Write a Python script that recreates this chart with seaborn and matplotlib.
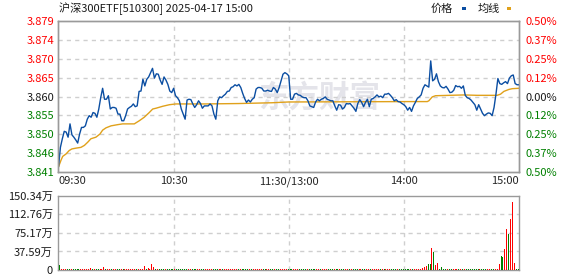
import numpy as np
import matplotlib
matplotlib.use("Agg")
import matplotlib.pyplot as plt
import seaborn as sns
from matplotlib.patches import Rectangle

# ---------------- data ----------------
title = "沪深300ETF[510300] 2025-04-17 15:00"
legend_labels = ["价格", "均线"]
watermark = "东方财富"
prev_close = 3.860

price = [
    3.8420, 3.8470, 3.8492, 3.8511, 3.8509, 3.8496, 3.8530, 3.8502, 3.8496, 3.8489,
    3.8481, 3.8504, 3.8521, 3.8521, 3.8525, 3.8542, 3.8551, 3.8547, 3.8559, 3.8557,
    3.8547, 3.8568, 3.8597, 3.8621, 3.8593, 3.8593, 3.8602, 3.8568, 3.8572, 3.8572,
    3.8570, 3.8555, 3.8555, 3.8538, 3.8538, 3.8551, 3.8568, 3.8572, 3.8575, 3.8581,
    3.8574, 3.8576, 3.8613, 3.8614, 3.8644, 3.8627, 3.8644, 3.8650, 3.8661, 3.8672,
    3.8647, 3.8658, 3.8657, 3.8642, 3.8631, 3.8650, 3.8642, 3.8631, 3.8614, 3.8610,
    3.8621, 3.8602, 3.8597, 3.8589, 3.8568, 3.8555, 3.8542, 3.8591, 3.8593, 3.8592,
    3.8581, 3.8572, 3.8579, 3.8589, 3.8582, 3.8570, 3.8576, 3.8576, 3.8576, 3.8581,
    3.8576, 3.8555, 3.8542, 3.8589, 3.8599, 3.8597, 3.8602, 3.8606, 3.8613, 3.8614,
    3.8623, 3.8625, 3.8630, 3.8627, 3.8631, 3.8623, 3.8608, 3.8595, 3.8585, 3.8591,
    3.8586, 3.8593, 3.8597, 3.8619, 3.8623, 3.8623, 3.8621, 3.8614, 3.8614, 3.8616,
    3.8614, 3.8613, 3.8623, 3.8619, 3.8610, 3.8623, 3.8640, 3.8657, 3.8661, 3.8658,
    3.8653, 3.8593, 3.8593, 3.8606, 3.8608, 3.8604, 3.8603, 3.8599, 3.8597, 3.8597,
    3.8589, 3.8576, 3.8574, 3.8572, 3.8586, 3.8593, 3.8589, 3.8593, 3.8595, 3.8599,
    3.8593, 3.8591, 3.8589, 3.8589, 3.8576, 3.8565, 3.8579, 3.8578, 3.8568, 3.8572,
    3.8582, 3.8581, 3.8582, 3.8576, 3.8570, 3.8562, 3.8582, 3.8592, 3.8585, 3.8574,
    3.8585, 3.8593, 3.8574, 3.8593, 3.8595, 3.8599, 3.8604, 3.8599, 3.8601, 3.8597,
    3.8606, 3.8606, 3.8608, 3.8603, 3.8597, 3.8589, 3.8592, 3.8587, 3.8586, 3.8582,
    3.8579, 3.8574, 3.8565, 3.8572, 3.8562, 3.8576, 3.8585, 3.8595, 3.8599, 3.8604,
    3.8621, 3.8630, 3.8627, 3.8624, 3.8691, 3.8640, 3.8644, 3.8658, 3.8638, 3.8627,
    3.8623, 3.8622, 3.8626, 3.8619, 3.8610, 3.8611, 3.8616, 3.8628, 3.8625, 3.8626,
    3.8621, 3.8627, 3.8603, 3.8597, 3.8595, 3.8591, 3.8585, 3.8579, 3.8565, 3.8579,
    3.8568, 3.8557, 3.8551, 3.8555, 3.8558, 3.8557, 3.8551, 3.8572, 3.8606, 3.8646,
    3.8633, 3.8631, 3.8635, 3.8638, 3.8633, 3.8647, 3.8653, 3.8655, 3.8633, 3.8630,
    3.8630,
]

avg_minutes = [0, 1.3, 2.2, 3.9, 5.6, 7.0, 9.1, 11.7, 13.5, 15.2, 16.9, 19.5, 21.6,
               23.0, 24.8, 27.4, 30.8, 33.4, 39.5, 42.1, 44.7, 47.3, 49.1, 50.8,
               54.3, 57.8, 61.2, 76.5, 93.8, 111.2, 119.9, 180, 192.2, 193.0, 194.8,
               196.5, 211.3, 218.2, 228.6, 230.4, 232.1, 234.7, 236.5, 240]
avg_values = [3.8420, 3.8437, 3.8447, 3.8453, 3.8462, 3.8466, 3.8468, 3.8470, 3.8475,
              3.8483, 3.8492, 3.8496, 3.8504, 3.8514, 3.8520, 3.8525, 3.8528, 3.8530,
              3.8530, 3.8538, 3.8547, 3.8559, 3.8568, 3.8570, 3.8575, 3.8579, 3.8581,
              3.8581, 3.8582, 3.8584, 3.8586, 3.8587, 3.8587, 3.8589, 3.8599, 3.8602,
              3.8604, 3.8603, 3.8603, 3.8606, 3.8613, 3.8618, 3.8620, 3.8621]

volume = [
    10.2, 2.4, 2.3, 2.1, 2.5, 2.2, 2.3, 2.1, 2.4, 2.2, 2.1, 2.3, 2.1, 2.2, 2.3, 2.1, 4.1, 2.2, 2.1, 2.2,
    2.1, 2.3, 2.2, 5.3, 2.2, 2.1, 2.2, 2.1, 2.3, 2.1, 2.2, 2.3, 2.1, 2.1, 2.2, 2.3, 2.1, 2.1, 2.2, 2.2,
    2.1, 2.2, 2.2, 2.3, 8.2, 2.2, 3.1, 2.2, 12.6, 5.2, 2.2, 2.1, 2.2, 2.1, 2.2, 2.1, 2.2, 2.3, 2.1, 2.1,
    2.2, 2.1, 2.1, 2.2, 2.1, 2.2, 2.1, 2.1, 2.2, 2.0, 2.1, 2.1, 2.2, 2.1, 2.0, 2.1, 2.2, 2.1, 2.1, 2.0,
    2.1, 2.1, 2.2, 2.1, 2.0, 2.1, 2.1, 2.1, 2.2, 2.0, 2.1, 2.1, 2.0, 2.1, 2.1, 2.2, 2.0, 2.1, 2.1, 2.0,
    2.1, 2.1, 2.0, 2.2, 2.1, 2.0, 2.1, 2.1, 2.0, 2.1, 2.1, 2.0, 2.1, 2.2, 2.1, 2.1, 2.2, 2.2, 2.1, 2.1,
    2.3, 2.2, 2.1, 2.1, 2.0, 2.1, 2.1, 2.0, 2.1, 2.2, 2.1, 2.1, 2.0, 2.1, 2.1, 2.0, 2.1, 2.1, 2.1, 2.0,
    2.1, 2.1, 2.0, 2.1, 2.1, 2.2, 2.0, 2.1, 2.1, 2.1, 2.0, 2.1, 2.1, 2.0, 2.1, 2.1, 2.0, 2.1, 2.1, 2.1,
    2.0, 2.1, 2.1, 2.0, 2.2, 2.1, 2.1, 2.0, 2.1, 2.1, 2.1, 2.0, 2.1, 2.1, 2.2, 2.1, 2.1, 2.0, 2.1, 2.1,
    2.2, 2.1, 2.2, 2.2, 2.3, 2.2, 2.4, 2.6, 2.9, 3.4, 5.1, 8.3, 12.4, 12.1, 44.2, 36.3, 9.4, 14.2, 2.6, 5.3,
    2.5, 2.3, 2.2, 2.2, 2.1, 2.2, 2.1, 2.1, 2.2, 2.1, 2.2, 2.1, 2.1, 2.2, 2.1, 2.1, 2.2, 2.1, 2.1, 2.2,
    2.1, 2.2, 2.1, 2.2, 2.1, 2.2, 2.3, 2.4, 2.5, 11.9, 28.4, 26.1, 42.3, 83.5, 73.2, 103.6, 137.4, 14.1, 2.4, 2.3,
    2.2,
]

price_tick_labels = ["3.879", "3.874", "3.870", "3.865", "3.860", "3.855", "3.850", "3.846", "3.841"]
pct_tick_labels = ["0.50%", "0.37%", "0.25%", "0.12%", "0.00%", "0.12%", "0.25%", "0.37%", "0.50%"]
pct_levels = [0.50, 0.375, 0.25, 0.125, 0.0, -0.125, -0.25, -0.375, -0.50]
vol_tick_values = [0, 37.59, 75.17, 112.76, 150.34]
vol_tick_labels = ["0", "37.59万", "75.17万", "112.76万", "150.34万"]
time_labels = ["09:30", "10:30", "11:30/13:00", "14:00", "15:00"]
time_positions = [0, 60, 120, 180, 240]

# ---------------- style ----------------
sns.set_style("white")
plt.rcParams['font.family'] = ['Noto Sans CJK SC', 'DejaVu Sans']
plt.rcParams['axes.unicode_minus'] = False

RED = "#ff0000"
GREEN = "#008000"
DARK = "#1a1a1a"
BLUE = "#0b4ea2"
ORANGE = "#e0a11b"
FRAME = "#9a9a9a"
GRID = "#cfcfcf"
FS = 8

minutes = np.arange(len(price))
fig = plt.figure(figsize=(5.78, 2.76), dpi=100)
ax = fig.add_axes([0.1012, 0.3768, 0.7967, 0.5471])
axv = fig.add_axes([0.1012, 0.0217, 0.7967, 0.2692])

lo = prev_close * (1 - 0.005)
hi = prev_close * (1 + 0.005)
tick_pos = [prev_close * (1 + p / 100) for p in pct_levels]

# watermark
ax.text(136, prev_close * (1 - 0.0001), watermark, fontsize=22, color="#e4e4ea",
        ha="center", va="center", fontweight="bold", zorder=0)

# grid
for tp in tick_pos[1:-1]:
    ax.axhline(tp, color=GRID, lw=1, ls=(0, (3, 3)), zorder=1)
for t in time_positions[1:-1]:
    ax.axvline(t, color=GRID, lw=1, ls=(0, (3, 3)), zorder=1)
    axv.axvline(t, color=GRID, lw=1, ls=(0, (3, 3)), zorder=1)
for v in vol_tick_values[1:-1]:
    axv.axhline(v, color=GRID, lw=1, ls=(0, (3, 3)), zorder=1)

sns.lineplot(x=avg_minutes, y=avg_values, ax=ax, color=ORANGE, lw=1.0,
             estimator=None, sort=False, zorder=3)
sns.lineplot(x=minutes, y=price, ax=ax, color=BLUE, lw=1.0,
             estimator=None, sort=False, zorder=4)

ax.set_xlim(0, 240)
ax.set_ylim(lo, hi)
ax.set_yticks(tick_pos)
ax.set_yticklabels(price_tick_labels)
ax.set_xticks(time_positions)
ax.set_xticklabels(time_labels)
ax.tick_params(axis="both", length=0, labelsize=FS)
ax.tick_params(axis="y", pad=3)
ax.tick_params(axis="x", pad=3)
for lab, p in zip(ax.get_yticklabels(), pct_levels):
    lab.set_color(RED if p > 0 else (GREEN if p < 0 else DARK))
xl = ax.get_xticklabels()
xl[0].set_ha("left")
xl[-1].set_ha("right")
ax.set_xlabel("")
ax.set_ylabel("")

axr = ax.twinx()
axr.set_ylim(lo, hi)
axr.set_yticks(tick_pos)
axr.set_yticklabels(pct_tick_labels)
axr.tick_params(axis="y", length=0, labelsize=FS, pad=5)
for lab, p in zip(axr.get_yticklabels(), pct_levels):
    lab.set_color(RED if p > 0 else (GREEN if p < 0 else DARK))

for a in (ax, axr, axv):
    for s in a.spines.values():
        s.set_color(FRAME)
        s.set_linewidth(1.0)

# volume bars (crisp 1px bars)
prev = [prev_close] + price[:-1]
colors = [RED if c >= p else GREEN for c, p in zip(price, prev)]
vl = axv.vlines(minutes + 0.4, 0, volume, colors=colors, linewidth=0.72,
                antialiased=False, zorder=3)
vl.set_snap(True)
axv.set_xlim(0, 240)
axv.set_ylim(0, vol_tick_values[-1])
axv.set_yticks(vol_tick_values)
axv.set_yticklabels(vol_tick_labels)
axv.set_xticks([])
axv.tick_params(axis="y", length=0, labelsize=FS, pad=4, labelcolor=DARK)

# title and legend
fig.text(59 / 578, 1 - 9 / 276, title, fontsize=FS, color=DARK, ha="left", va="center")
fig.text(453 / 578, 1 - 9 / 276, legend_labels[0], fontsize=FS, color=DARK, ha="right", va="center")
fig.text(500 / 578, 1 - 9 / 276, legend_labels[1], fontsize=FS, color=DARK, ha="right", va="center")
fig.patches.append(Rectangle((462 / 578, 1 - 10 / 276), 4 / 578, 2.5 / 276,
                             transform=fig.transFigure, color=BLUE, lw=0))
fig.patches.append(Rectangle((507 / 578, 1 - 10 / 276), 4 / 578, 2.5 / 276,
                             transform=fig.transFigure, color=ORANGE, lw=0))

fig.savefig("out.png", dpi=100)
